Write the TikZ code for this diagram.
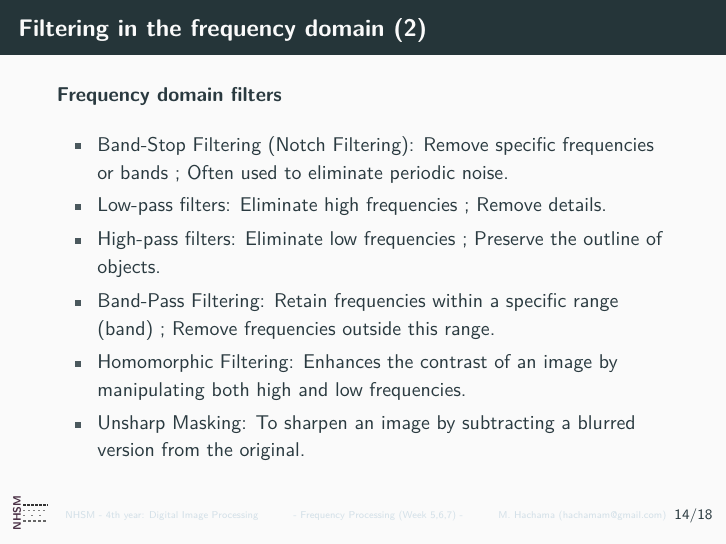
\documentclass[tikz,border=0pt]{standalone}
\usetikzlibrary{positioning}
\definecolor{headbg}{HTML}{253539}
\definecolor{pagebg}{HTML}{FAFAFA}
\definecolor{bodytext}{HTML}{2A3A40}
\definecolor{foottext}{HTML}{D3E0E8}
\definecolor{logodark}{HTML}{4A3045}
\tikzset{
	itembox/.style={anchor=north west,inner sep=0pt,align=left,text=bodytext,font=\fontsize{9.95}{13.85}\sffamily\selectfont},
	bulletbox/.style={rectangle,fill=bodytext!85,inner sep=0pt,minimum size=2.8pt},
	footbox/.style={anchor=base west,inner sep=0pt,text=foottext,font=\fontsize{4.96}{6}\sffamily\selectfont}
}
\begin{document}
\begin{tikzpicture}[x=0.5pt,y=-0.5pt]
	\useasboundingbox (0,0) rectangle (726,544);
	\fill [pagebg] (0,0) rectangle (726,544);
	\fill [headbg] (0,0) rectangle (726,55);
	% Place nodes
	\node [anchor=base west,inner sep=0pt,text=pagebg,font=\fontsize{12}{14}\sffamily\bfseries\selectfont] (title) at (18,37) {Filtering in the frequency domain (2)};
	\node [anchor=base west,inner sep=0pt,text=bodytext,font=\fontsize{10}{12}\sffamily\bfseries\selectfont] (head) at (56.5,102) {Frequency domain filters};

	\node [itembox] (item1) at (97,136) {Band-Stop Filtering (Notch Filtering): Remove specific frequencies\\or bands ; Often used to eliminate periodic noise.};
	\node [itembox] (item2) at (97,197) {Low-pass filters: Eliminate high frequencies ; Remove details.};
	\node [itembox] (item3) at (97,231) {High-pass filters: Eliminate low frequencies ; Preserve the outline of\\objects.};
	\node [itembox] (item4) at (97,293) {Band-Pass Filtering: Retain frequencies within a specific range\\(band) ; Remove frequencies outside this range.};
	\node [itembox] (item5) at (97,354) {Homomorphic Filtering: Enhances the contrast of an image by\\manipulating both high and low frequencies.};
	\node [itembox] (item6) at (97,415) {Unsharp Masking: To sharpen an image by subtracting a blurred\\version from the original.};

	\foreach \n in {1,...,6} {
		\node [bulletbox,left=9.4pt of item\n.north west,yshift=-5pt,anchor=center] (bullet\n) {};
	}

	\node [footbox] (foot1) at (65,518) {NHSM - 4th year: Digital Image Processing};
	\node [footbox] (foot2) at (293,518) {- Frequency Processing (Week 5,6,7) -};
	\node [footbox] (foot3) at (498,518) {M. Hachama (hachamam@gmail.com)};
	\node [anchor=base east,inner sep=0pt,text=bodytext,font=\fontsize{7.2}{9}\sffamily\selectfont] (page) at (713,519) {14/18};

	% logo
	\node [rotate=90,inner sep=0pt,text=logodark,font=\fontsize{5.5}{6}\sffamily\bfseries\selectfont] (logo) at (17,513) {NHSM};
	\draw [line width=0.8pt,color=black!80,dash pattern=on 1.5pt off 0.5pt] (23,505) -- (48,505);
	\draw [line width=0.5pt,color=black!50,dash pattern=on 1pt off 1.5pt] (23,510) -- (48,510);
	\draw [line width=0.5pt,color=black!50,dash pattern=on 1pt off 3pt] (23,515) -- (46,515);
	\draw [line width=0.7pt,color=black!60,dash pattern=on 1.5pt off 1pt] (23,521) -- (46,521);
\end{tikzpicture}
\end{document}
